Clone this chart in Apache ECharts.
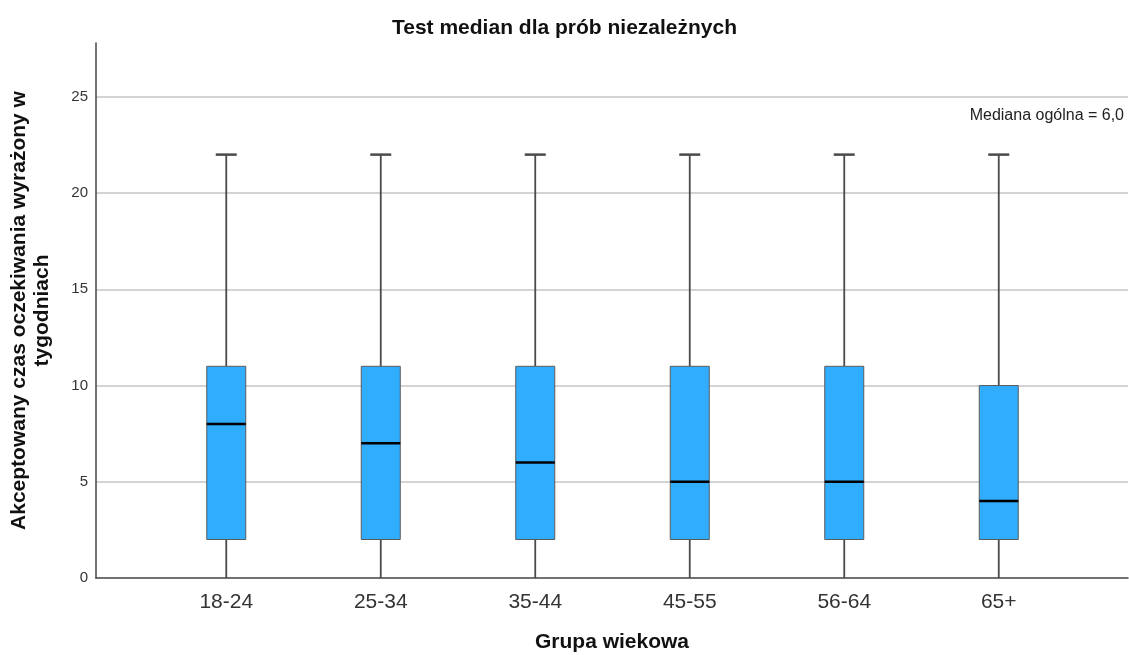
<!DOCTYPE html>
<html>
<head>
<meta charset="utf-8">
<script src="https://cdn.jsdelivr.net/npm/echarts@6/dist/echarts.min.js"></script>
<style>html,body{margin:0;padding:0;background:#fff}#c{width:1129px;height:655px}</style>
</head>
<body>
<div id="c"></div>
<script>
const categories = ['18-24', '25-34', '35-44', '45-55', '56-64', '65+'];
const whiskerLow = [0, 0, 0, 0, 0, 0];
const q1 = [2, 2, 2, 2, 2, 2];
const median = [8, 7, 6, 5, 5, 4];
const q3 = [11, 11, 11, 11, 11, 10];
const whiskerHigh = [22, 22, 22, 22, 22, 22];
const yTicks = [0, 5, 10, 15, 20, 25];
const overallMedianText = 'Mediana ogólna = 6,0';

const FONT = '"Liberation Sans", Arial, sans-serif';
const data = categories.map((c, i) => [i, whiskerLow[i], q1[i], median[i], q3[i], whiskerHigh[i]]);
const Y_MAX = 27.8;

const chart = echarts.init(document.getElementById('c'));
chart.setOption({
  animation: false,
  backgroundColor: '#fff',
  title: {
    text: 'Test median dla prób niezależnych',
    left: 'center', top: 13,
    textStyle: { fontFamily: FONT, fontSize: 21, fontWeight: 'bold', color: '#111' }
  },
  grid: [
    { left: 96, right: 1, top: 43, bottom: 77, containLabel: false, outerBoundsMode: 'none' },
    { left: 149, right: 53, top: 43, bottom: 77, containLabel: false, outerBoundsMode: 'none' }
  ],
  xAxis: [
    {
      gridIndex: 0, type: 'value', min: 0, max: 1,
      axisLine: { show: true, lineStyle: { color: '#444', width: 1.5 } },
      axisTick: { show: false }, axisLabel: { show: false }, splitLine: { show: false },
      name: 'Grupa wiekowa', nameLocation: 'middle', nameGap: 54,
      nameTextStyle: { fontFamily: FONT, fontSize: 21, fontWeight: 'bold', color: '#111' }
    },
    {
      gridIndex: 1, type: 'category', data: categories,
      axisLine: { show: false }, axisTick: { show: false },
      axisLabel: { fontFamily: FONT, fontSize: 21, color: '#333', margin: 14 }
    }
  ],
  yAxis: [
    {
      gridIndex: 0, type: 'value', min: 0, max: Y_MAX, interval: 5,
      axisLine: { show: true, lineStyle: { color: '#444', width: 1.5 } },
      axisTick: { show: false },
      axisLabel: {
        fontFamily: FONT, fontSize: 15, color: '#333', margin: 8,
        formatter: v => (yTicks.indexOf(v) >= 0 ? String(v) : '')
      },
      splitLine: { show: true, showMaxLine: false, showMinLine: false, lineStyle: { color: '#c4c4c4', width: 1.5 } },
      name: 'Akceptowany czas oczekiwania wyrażony w\ntygodniach',
      nameLocation: 'middle', nameGap: 42,
      nameTextStyle: { fontFamily: FONT, fontSize: 21, fontWeight: 'bold', color: '#111', lineHeight: 23 }
    },
    { gridIndex: 1, type: 'value', min: 0, max: Y_MAX, show: false }
  ],
  graphic: [{
    type: 'text', right: 5, top: 108,
    style: { text: overallMedianText, font: '16px ' + FONT, fill: '#222' }
  }],
  series: [{
    type: 'custom',
    xAxisIndex: 1, yAxisIndex: 1,
    data: data,
    encode: { x: 0, y: [1, 2, 3, 4, 5] },
    renderItem: function (params, api) {
      const x = api.value(0);
      const pLow = api.coord([x, api.value(1)]);
      const pQ1 = api.coord([x, api.value(2)]);
      const pMed = api.coord([x, api.value(3)]);
      const pQ3 = api.coord([x, api.value(4)]);
      const pHigh = api.coord([x, api.value(5)]);
      const cx = pLow[0];
      const bw = 39, cw = 21;
      const wStyle = { stroke: '#4a4a4a', lineWidth: 1.8 };
      return {
        type: 'group',
        children: [
          { type: 'line', shape: { x1: cx, y1: pLow[1], x2: cx, y2: pQ1[1] }, style: wStyle },
          { type: 'line', shape: { x1: cx, y1: pQ3[1], x2: cx, y2: pHigh[1] }, style: wStyle },
          { type: 'line', shape: { x1: cx - cw / 2, y1: pHigh[1], x2: cx + cw / 2, y2: pHigh[1] },
            style: { stroke: '#4a4a4a', lineWidth: 2.5 } },
          { type: 'rect', shape: { x: cx - bw / 2, y: pQ3[1], width: bw, height: pQ1[1] - pQ3[1] },
            style: { fill: '#31adff', stroke: '#5a5a5a', lineWidth: 1 } },
          { type: 'line', shape: { x1: cx - bw / 2, y1: pMed[1], x2: cx + bw / 2, y2: pMed[1] },
            style: { stroke: '#000', lineWidth: 2.5 } }
        ]
      };
    }
  }]
});
</script>
</body>
</html>
